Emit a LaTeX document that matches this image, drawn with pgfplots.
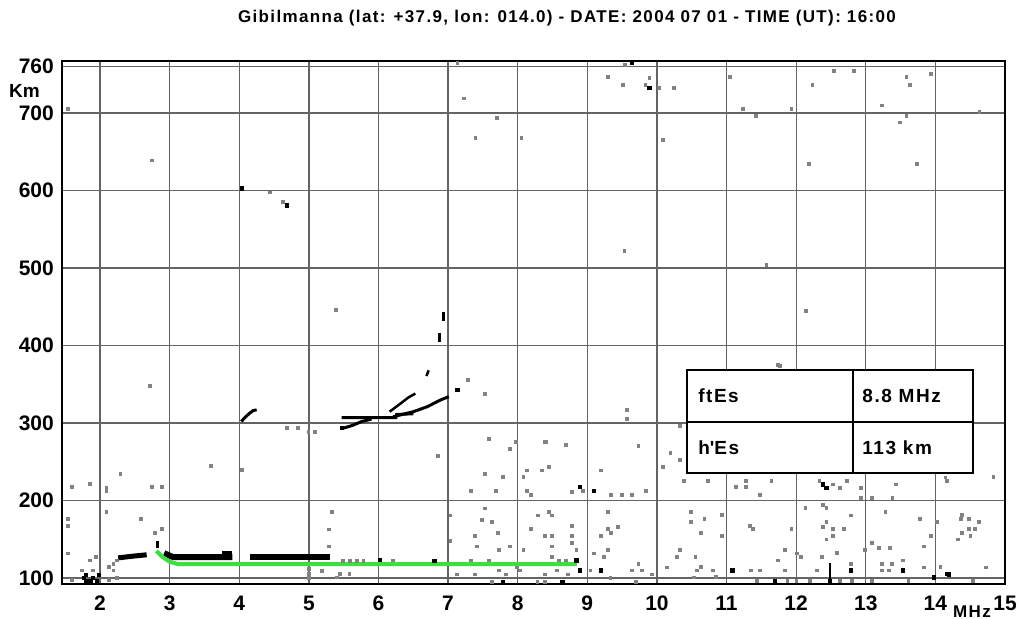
\documentclass[border=0pt]{standalone}
\usepackage{fontspec}
\setmainfont{Liberation Sans}
\newfontfamily\wfont[LetterSpace=8]{Liberation Sans}
\usepackage{pgfplots}
\pgfplotsset{compat=1.18}
\definecolor{dotgray}{RGB}{130,130,130}
\definecolor{gridgray}{RGB}{100,100,100}
\definecolor{esgreen}{RGB}{60,224,60}
\begin{document}
\begin{tikzpicture}
\path[use as bounding box] (-62bp,-35bp) rectangle (960bp,584bp);
\begin{axis}[
 at={(0,0)}, anchor=south west, scale only axis,
 width=943bp, height=523bp,
 xmin=1.454, xmax=15.0, ymin=92.3, ymax=767.1,
 xtick={2,3,4,5,6,7,8,9,10,11,12,13,14,15},
 ytick={100,200,300,400,500,600,700,760},
 major tick length=0pt,
 grid=major,
 major grid style={draw=gridgray, line width=1.3bp},
 axis line style={line width=1.8bp, black},
 tick label style={font=\fontsize{21bp}{21bp}\selectfont\bfseries},
 /pgf/number format/assume math mode=true,
 /pgf/number format/1000 sep={},
 xticklabel style={anchor=north, inner sep=0pt, yshift=-12bp},
 yticklabel style={anchor=east, inner sep=0pt, xshift=-8bp},
 clip=false,
]
% gray noise
\addplot[only marks, mark=square*, mark size=1.4bp, color=dotgray] table {
x y
1.54 706
2.74 639
4.63 585.5
4.44 597.7
2.71 348
5.38 445.8
4.68 294
4.84 294
4.99 289
5.08 289
7.58 280
7.89 267
7.97 276
8.40 276
8.69 271.6
7.28 356
7.53 338
9.29 746.5
9.51 737
9.83 737
9.89 746
10.03 733
10.24 733
9.54 762
11.04 746.5
11.23 706
11.42 696.5
11.93 706
12.23 737
12.54 755
12.83 755
13.23 710
13.58 746.5
13.63 736
13.58 696.5
13.49 688
13.93 751
14.63 701.7
10.08 666
12.18 634.6
13.73 634.6
9.53 522
7.22 719
7.39 668
7.70 694
8.05 668
7.13 765
12.14 444.5
11.57 504
11.76 373.5
9.57 317
9.57 306
10.33 297
11.73 375
14.14 230
6.85 258
7.88 266.5
8.38 275.5
9.73 271
10.19 262
10.33 253
10.08 244
10.39 226
7.53 235
7.78 231
8.13 239
8.34 239
8.44 244
8.08 231
9.19 239
7.33 212.7
7.68 212.7
8.13 212.7
8.19 208
8.93 212.7
8.78 211
9.34 208
9.49 208
9.64 208
9.84 212.7
7.53 190
7.48 175
7.63 172.6
7.03 181
8.29 181
8.44 186
8.49 181
8.19 163.6
8.78 168
9.29 186
9.29 163.6
9.34 159
9.44 166
9.19 154.6
7.71 159
7.38 154.6
7.03 148
7.41 141
7.88 141
7.73 137
8.08 137
8.39 154.6
8.49 154.6
8.49 141
8.78 154.6
8.78 145.5
8.84 137
9.09 132
9.29 137
9.24 127.5
8.49 127.5
10.33 137
10.28 127.5
10.14 114
9.73 119
9.64 110
9.78 110
9.93 105
9.04 110
7.12 105
7.38 105
7.73 110
7.83 105
8.03 110
8.39 105
8.56 110
8.72 105
7.63 95.7
8.28 95.7
8.39 95.7
9.70 95.7
9.33 100
7.99 114
7.33 123
7.58 123
8.59 123
8.69 123
10.38 226
10.73 226
11.28 226
11.64 226
11.13 218
11.28 218
11.48 208
12.33 226
12.53 221
12.73 226
12.63 217
12.93 217
12.93 204
13.09 204
13.38 204
13.43 221
14.16 226
14.83 231
10.48 185.5
10.48 172.6
10.68 177
10.93 182
10.63 159
10.93 155
11.33 168
11.38 163.6
11.93 163.6
12.13 190.7
12.38 195
12.43 190.7
12.78 181
13.28 185.5
13.78 177
12.43 172.6
12.38 166
12.53 163.6
12.68 163.6
12.53 155
12.43 150
13.93 155
13.09 145.5
13.18 139
13.34 139
12.99 137
13.83 141
11.84 137
12.58 132.6
12.01 132
12.37 127.5
12.07 127.5
10.55 127.5
11.74 123
14.36 177
14.48 177
14.62 172.6
14.38 182
14.02 172.6
14.38 159
14.48 163.6
14.57 163.6
14.50 155
14.32 150
14.72 114
11.35 110
11.48 110
11.84 110
12.29 110
12.78 118
13.23 119
13.37 119
13.23 110
13.33 110
13.53 123
13.83 114
14.07 114.6
10.57 110
10.63 114.6
10.80 110
10.84 101.7
10.53 101
11.43 96.5
11.87 96.5
12.00 96.5
12.20 96.5
12.63 96.5
12.80 96.5
13.09 96.5
13.61 96.5
14.54 96.5
1.59 217.4
1.85 221.7
2.09 217
2.09 212.6
2.29 235
2.74 217.4
2.89 217.4
3.59 244.5
4.03 240
1.54 177
1.54 168
2.09 186
2.59 177
2.79 159
2.89 163.6
1.54 132
1.85 123
1.94 127.5
2.13 114.6
2.19 119
2.24 123
2.19 110
1.74 110
1.89 110
1.59 97.4
2.13 97.4
2.24 100
5.33 185.5
5.28 163
5.28 141
5.18 109.5
5.44 106
5.58 106
5.40 101
5.00 100
5.00 106
5.00 112
5.49 122
5.59 122
5.69 122
5.78 122
6.21 123
};
% black echoes (points)
\addplot[only marks, mark=square*, mark size=1.6bp, color=black] table {
x y
4.03 603
4.68 581
5.47 294
7.13 343.5
9.89 733
9.64 765
8.89 217.4
9.09 212.7
8.89 110
9.19 110
8.84 123
7.78 95.7
8.64 95.7
12.38 221
12.43 217
11.08 110
12.78 110
13.53 110
14.16 106
14.19 105
11.69 96.5
12.48 96.5
13.97 101
6.02 124
6.80 122
1.76 100
1.80 96
1.86 96
1.90 100
1.95 96
1.98 104
1.80 104
};
% first-hop Es trace
\addplot[black, line width=5bp] coordinates {(2.26,126) (2.45,128) (2.67,130)};
\addplot[black, line width=3bp] coordinates {(2.82,139) (2.82,148)};
\addplot[black, line width=6bp] coordinates {(2.92,132) (3.05,127) (3.9,127)};
\addplot[black, line width=3bp] coordinates {(3.75,133.5) (3.9,133.5)};
\addplot[black, line width=6bp] coordinates {(4.15,127) (5.3,127)};
\addplot[black, line width=2bp] coordinates {(12.49,93.6) (12.49,119)};
% second-hop traces
\addplot[black, line width=3bp] coordinates {(4.03,302) (4.08,307) (4.14,312) (4.2,316) (4.25,317)};
\addplot[black, line width=3bp] coordinates {(5.47,307) (6.25,307) (6.26,311) (6.5,312)};
\addplot[black, line width=3bp] coordinates {(5.48,293) (5.63,297) (5.76,302) (5.9,305)};
\addplot[black, line width=3bp] coordinates {(6.21,308) (6.5,314.6) (6.7,321) (6.89,329.7) (7.01,334)};
\addplot[black, line width=2.5bp] coordinates {(6.16,314.6) (6.3,324) (6.43,333) (6.53,338)};
\addplot[black, line width=2.5bp] coordinates {(6.69,360.6) (6.72,368)};
\addplot[black, line width=3bp] coordinates {(6.88,404) (6.88,416)};
\addplot[black, line width=3bp] coordinates {(6.93,432) (6.93,443)};
% scaled trace
\addplot[esgreen, line width=4bp] coordinates {(2.81,135) (2.9,127) (3.0,121) (3.12,118) (8.85,118)};
% parameter table
\draw[line width=1.8bp, fill=white] (axis cs:10.434,235.5) rectangle (axis cs:14.54,368.4);
\draw[line width=1.8bp] (axis cs:10.434,301.3) -- (axis cs:14.54,301.3);
\draw[line width=1.8bp] (axis cs:12.82,235.5) -- (axis cs:12.82,368.4);
\node[anchor=west, inner sep=0pt, xshift=11bp, font=\wfont\bfseries\fontsize{19bp}{19bp}\selectfont] at (axis cs:10.434,334.85) {ftEs};
\node[anchor=west, inner sep=0pt, xshift=11bp, font=\wfont\bfseries\fontsize{19bp}{19bp}\selectfont] at (axis cs:10.434,268.4) {h\textquotesingle Es};
\node[anchor=west, inner sep=0pt, xshift=9bp, font=\wfont\bfseries\fontsize{19bp}{19bp}\selectfont] at (axis cs:12.82,334.85) {8.8 MHz};
\node[anchor=west, inner sep=0pt, xshift=9bp, font=\wfont\bfseries\fontsize{19bp}{19bp}\selectfont] at (axis cs:12.82,268.4) {113 km};
% labels
\node[font=\wfont\bfseries\fontsize{17bp}{17bp}\selectfont] at (axis description cs:0.5355,1.0822) {Gibilmanna (lat: +37.9, lon: 014.0) - DATE: 2004 07 01 - TIME (UT): 16:00};
\node[font=\bfseries\fontsize{19bp}{19bp}\selectfont] at (axis description cs:-0.0398,0.9436) {Km};
\node[font=\wfont\bfseries\fontsize{17bp}{17bp}\selectfont] at (axis description cs:0.965,-0.0526) {MHz};
\end{axis}
\end{tikzpicture}
\end{document}
